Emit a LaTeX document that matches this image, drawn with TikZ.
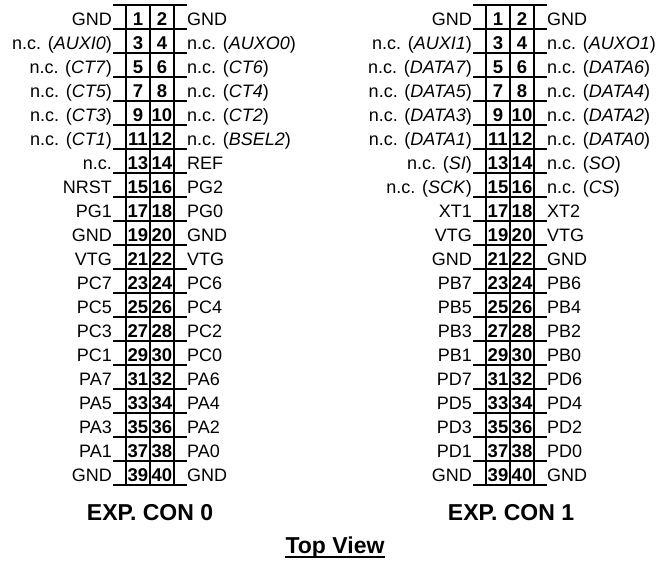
\documentclass[tikz,border=0pt]{standalone}
\usepackage{fontspec}
\setmainfont{Liberation Sans}
\begin{document}
\begin{tikzpicture}[x=1pt,y=-1pt,
  lbl/.style={inner sep=0pt,font=\fontsize{18}{20}\selectfont},
  pinnum/.style={inner sep=0pt,font=\fontsize{18.5}{20}\selectfont\bfseries},
  ttl/.style={inner sep=0pt,font=\fontsize{23}{26}\selectfont\bfseries},
  hline/.style={line width=1.1pt},
  vline/.style={line width=2pt}]
\useasboundingbox (0,0) rectangle (659,560);
% connector 0
\def\cx{150}
\foreach \k in {0,...,20}{\draw[hline] (\cx-37,5+24*\k) -- (\cx+37,5+24*\k);}
\foreach \dx in {-24,0,24}{\draw[vline] (\cx+\dx,5) -- (\cx+\dx,485);}
\foreach \l/\r [count=\i] in {GND/GND,{n.c. (\textit{AUXI0})}/{n.c. (\textit{AUXO0})},{n.c. (\textit{CT7})}/{n.c. (\textit{CT6})},{n.c. (\textit{CT5})}/{n.c. (\textit{CT4})},{n.c. (\textit{CT3})}/{n.c. (\textit{CT2})},{n.c. (\textit{CT1})}/{n.c. (\textit{BSEL2})},{n.c.}/REF,NRST/PG2,PG1/PG0,GND/GND,VTG/VTG,PC7/PC6,PC5/PC4,PC3/PC2,PC1/PC0,PA7/PA6,PA5/PA4,PA3/PA2,PA1/PA0,GND/GND}{
  \pgfmathtruncatemacro\na{2*\i-1}
  \pgfmathtruncatemacro\nb{2*\i}
  \node[lbl,anchor=base east] (a\na) at (\cx-38,1+24*\i) {\l};
  \node[lbl,anchor=base west] (a\nb) at (\cx+37,1+24*\i) {\r};
  \node[pinnum,anchor=base] (ap\na) at (\cx-12,1+24*\i) {\na};
  \node[pinnum,anchor=base] (ap\nb) at (\cx+12,1+24*\i) {\nb};
}
\node[ttl,anchor=base] (t0) at (150,520) {EXP. CON 0};
% connector 1
\def\cx{510}
\foreach \k in {0,...,20}{\draw[hline] (\cx-37,5+24*\k) -- (\cx+37,5+24*\k);}
\foreach \dx in {-24,0,24}{\draw[vline] (\cx+\dx,5) -- (\cx+\dx,485);}
\foreach \l/\r [count=\i] in {GND/GND,{n.c. (\textit{AUXI1})}/{n.c. (\textit{AUXO1})},{n.c. (\textit{DATA7})}/{n.c. (\textit{DATA6})},{n.c. (\textit{DATA5})}/{n.c. (\textit{DATA4})},{n.c. (\textit{DATA3})}/{n.c. (\textit{DATA2})},{n.c. (\textit{DATA1})}/{n.c. (\textit{DATA0})},{n.c. (\textit{SI})}/{n.c. (\textit{SO})},{n.c. (\textit{SCK})}/{n.c. (\textit{CS})},XT1/XT2,VTG/VTG,GND/GND,PB7/PB6,PB5/PB4,PB3/PB2,PB1/PB0,PD7/PD6,PD5/PD4,PD3/PD2,PD1/PD0,GND/GND}{
  \pgfmathtruncatemacro\na{2*\i-1}
  \pgfmathtruncatemacro\nb{2*\i}
  \node[lbl,anchor=base east] (b\na) at (\cx-38,1+24*\i) {\l};
  \node[lbl,anchor=base west] (b\nb) at (\cx+37,1+24*\i) {\r};
  \node[pinnum,anchor=base] (bp\na) at (\cx-12,1+24*\i) {\na};
  \node[pinnum,anchor=base] (bp\nb) at (\cx+12,1+24*\i) {\nb};
}
\node[ttl,anchor=base] (t1) at (511,520) {EXP. CON 1};
% top view
\node[ttl,anchor=base] (tv) at (335,553) {Top View};
\draw[line width=2pt] ([yshift=-4pt]tv.base west) -- ([yshift=-4pt]tv.base east);
\end{tikzpicture}
\end{document}
